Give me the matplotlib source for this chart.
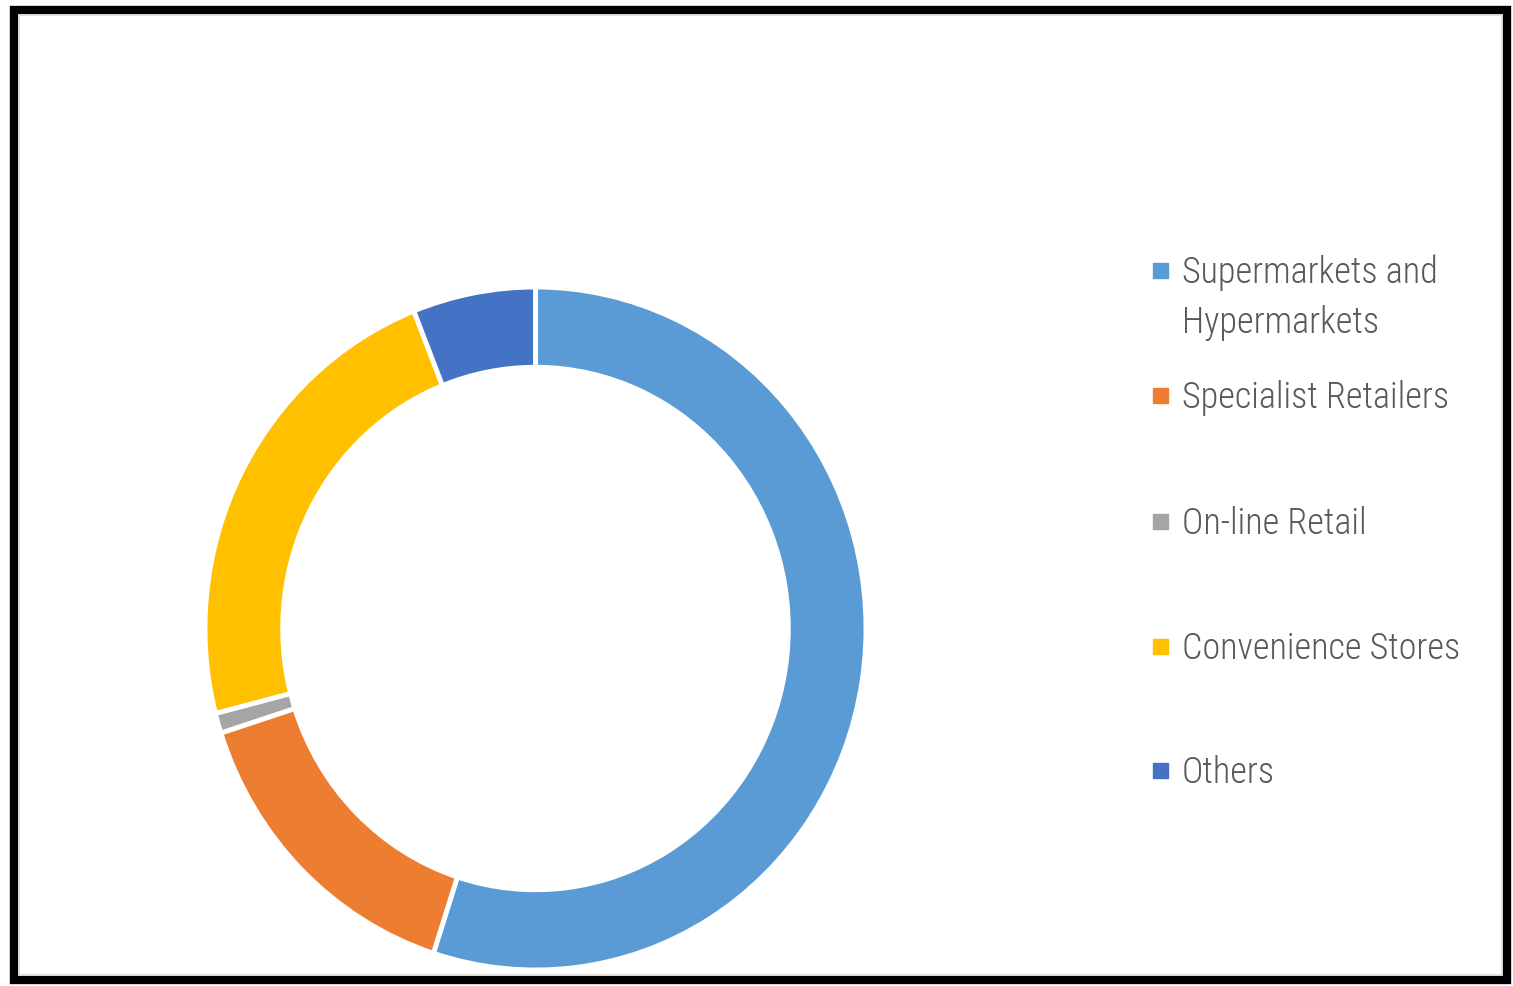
import matplotlib

matplotlib.use("Agg")
import matplotlib.pyplot as plt
from matplotlib.patches import Rectangle
from matplotlib import font_manager

categories = ["Supermarkets and\nHypermarkets", "Specialist Retailers", "On-line Retail",
              "Convenience Stores", "Others"]
shares = [55.0, 15.05, 0.95, 23.0, 6.0]
colors = ["#5B9BD5", "#ED7D31", "#A5A5A5", "#FFC000", "#4472C4"]

installed = {f.name for f in font_manager.fontManager.ttflist}
label_font = "Roboto Condensed" if "Roboto Condensed" in installed else "Roboto"
text_color = "#595959"

W, H = 1513, 986
fig = plt.figure(figsize=(W / 100, H / 100), dpi=100)
fig.patch.set_facecolor("white")

# donut occupies the pixel box x 205..866, y 287..970 (slightly taller than wide)
ax = fig.add_axes([205 / W, (H - 970) / H, 661 / W, 683 / H])
ax.pie(shares, colors=colors, startangle=90, counterclock=False,
       wedgeprops=dict(width=0.235, edgecolor="white", linewidth=3.5))
ax.set_aspect("auto")
ax.set_xlim(-1, 1)
ax.set_ylim(-1, 1)
ax.axis("off")

# hand-placed legend, marker aligned to the first line of each label
row_y = [270, 395, 521, 646, 770]
for label, color, y in zip(categories, colors, row_y):
    fig.add_artist(Rectangle((1153 / W, (H - y - 7.5) / H), 15 / W, 15 / H,
                             transform=fig.transFigure, color=color))
    for k, line in enumerate(label.split("\n")):
        fig.text(1182 / W, (H - y - 13 - 50 * k) / H, line, color=text_color, fontsize=26,
                 family=label_font, fontweight="light", va="baseline", ha="left",
                 transform=fig.transFigure)

# black frame with a faint grey inner edge
fig.add_artist(Rectangle((13.5 / W, 6.5 / H), (W - 20) / W, (H - 16) / H,
                         transform=fig.transFigure, fill=False, edgecolor="black", linewidth=6))
fig.add_artist(Rectangle((18.5 / W, 11.5 / H), (W - 30) / W, (H - 26) / H,
                         transform=fig.transFigure, fill=False, edgecolor="#D9D9D9", linewidth=1.2))

fig.savefig("out.png", dpi=100)
